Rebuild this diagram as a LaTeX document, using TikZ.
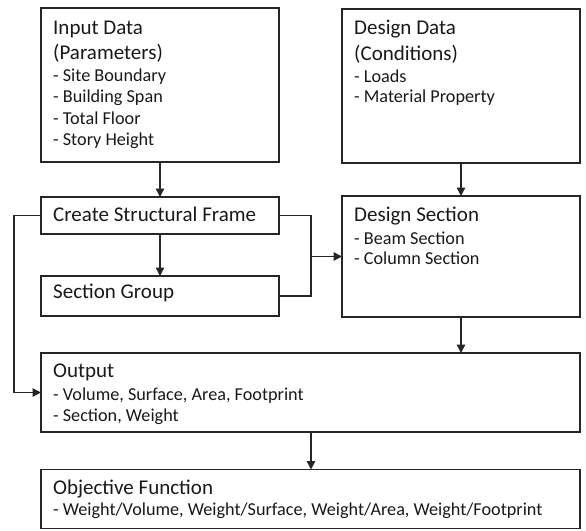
\documentclass[tikz,border=0pt]{standalone}
\usepackage{fontspec}
\setmainfont{Carlito}
\usetikzlibrary{arrows.meta}
\tikzset{
  box/.style={draw=black!85, line width=1.5pt, inner sep=0pt, outer sep=0pt, anchor=north west},
  head/.style={font=\fontsize{21}{25.5}\selectfont, inner sep=0pt, anchor=base west, text=black!90},
  item/.style={font=\fontsize{18.2}{21}\selectfont, inner sep=0pt, anchor=base west, text=black!90},
  conn/.style={draw=black!85, line width=1.5pt},
  arr/.style={conn, -{Triangle[length=8.5pt,width=8.5pt]}},
}
\begin{document}
\begin{tikzpicture}[x=1pt,y=-1pt]
\useasboundingbox (0,0) rectangle (586,530);
% boxes
\node[box, minimum width=238pt, minimum height=154pt] (in) at (41,8) {};
\node[box, minimum width=238pt, minimum height=154pt] (dd) at (342,9) {};
\node[box, minimum width=238pt, minimum height=37pt] (csf) at (41,197) {};
\node[box, minimum width=238pt, minimum height=40pt] (sg) at (41,276) {};
\node[box, minimum width=238pt, minimum height=121pt] (ds) at (342,196) {};
\node[box, minimum width=539pt, minimum height=79pt] (out) at (41,353) {};
\node[box, minimum width=539pt, minimum height=59pt] (obj) at (41,469.5) {};
% texts
\node[head] (in1) at (53,34) {Input Data};
\node[head] (in2) at (53,59.5) {(Parameters)};
\node[item] (in3) at (53,81.7) {- Site Boundary};
\node[item] (in4) at (53,102.7) {- Building Span};
\node[item] (in5) at (53,124) {- Total Floor};
\node[item] (in6) at (53,145) {- Story Height};
\node[head] (dd1) at (354,34) {Design Data};
\node[head] (dd2) at (354,60) {(Conditions)};
\node[item] (dd3) at (354,82) {- Loads};
\node[item] (dd4) at (354,102.5) {- Material Property};
\node[head] (csf1) at (53,221) {Create Structural Frame};
\node[head] (sg1) at (53,298) {Section Group};
\node[head] (ds1) at (354,221.7) {Design Section};
\node[item] (ds2) at (354,244) {- Beam Section};
\node[item] (ds3) at (354,264.3) {- Column Section};
\node[head] (out1) at (53,377.7) {Output};
\node[item] (out2) at (53,400.7) {- Volume, Surface, Area, Footprint};
\node[item] (out3) at (53,421.7) {- Section, Weight};
\node[head] (obj1) at (53,494.3) {Objective Function};
\node[item] (obj2) at (53,515) {- Weight/Volume, Weight/Surface, Weight/Area, Weight/Footprint};
% connectors
\coordinate (lx) at (14,0);
\coordinate (jx) at (311,0);
\draw[arr] (in.south) -- (csf.north);
\draw[arr] (csf.south) -- (sg.north);
\draw[arr] (dd.south) -- (ds.north);
\draw[arr] (ds.south) -- (ds.south |- out.north);
\draw[arr] (out.south -| jx) -- (obj.north -| jx);
\draw[arr] (csf.west) -- (csf.west -| lx) -- (out.west -| lx) -- (out.west);
\draw[conn] (csf.east) -- (csf.east -| jx) -- (sg.east -| jx) -- (sg.east);
\draw[arr] (ds.west -| jx) -- (ds.west);
\end{tikzpicture}
\end{document}
